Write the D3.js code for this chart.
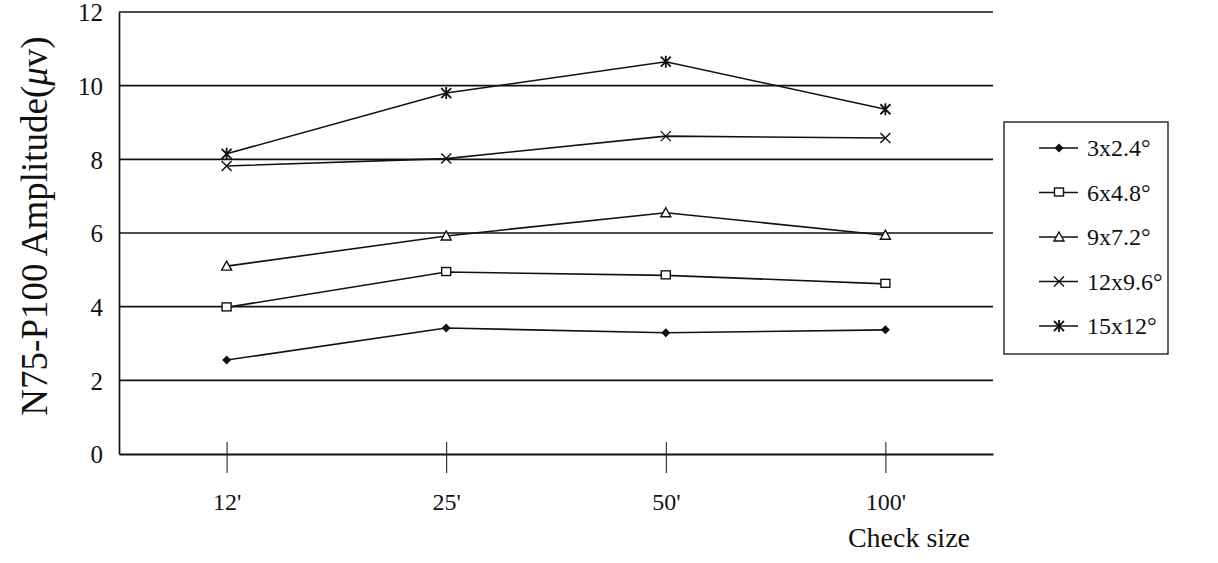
<!DOCTYPE html>
<html>
<head>
<meta charset="utf-8">
<script src="https://cdn.jsdelivr.net/npm/d3@7"></script>
<style>
  body { margin: 0; background: #fff; }
  text { font-family: "Liberation Serif", "Times New Roman", serif; fill: #111; }
</style>
</head>
<body>
<div id="chart-area"></div>
<script>
let checkSizes = ["12'", "25'", "50'", "100'"]
let seriesNames = ["3x2.4°", "6x4.8°", "9x7.2°", "12x9.6°", "15x12°"]
let values3 = [2.55, 3.42, 3.29, 3.37]
let values6 = [3.98, 4.94, 4.85, 4.62]
let values9 = [5.1, 5.92, 6.55, 5.94]
let values12 = [7.82, 8.02, 8.63, 8.58]
let values15 = [8.15, 9.8, 10.65, 9.36]
let yTicks = [0, 2, 4, 6, 8, 10, 12]
let markerKinds = ["diamond", "square", "triangle", "cross", "star"]

let serif = "'Liberation Serif', 'Times New Roman', serif"

let allSeries = [values3, values6, values9, values12, values15].map((vals, i) => {
  return { name: seriesNames[i], marker: markerKinds[i], values: vals }
})

let margin = { top: 12, right: 225, bottom: 109, left: 119 }
let width = 1218, height = 563
let plotW = width - margin.left - margin.right
let plotH = height - margin.top - margin.bottom

let svg = d3.select("#chart-area").append("svg")
  .attr("width", width)
  .attr("height", height)

let g = svg.append("g")
  .attr("transform", "translate(" + margin.left + ", " + margin.top + ")")

let x = d3.scalePoint()
  .domain(checkSizes)
  .range([0, plotW])
  .padding(0.49)

let y = d3.scaleLinear()
  .domain([0, 12])
  .range([plotH, 0])

// horizontal grid lines
g.selectAll(".grid")
  .data(yTicks.filter(t => t > 0))
  .enter().append("line")
    .attr("x1", 0)
    .attr("x2", plotW)
    .attr("y1", d => y(d))
    .attr("y2", d => y(d))
    .attr("stroke", "#111")
    .attr("stroke-width", 1.7)

// y axis
let yAxis = g.append("g")
  .call(d3.axisLeft(y).tickValues(yTicks).tickSize(0).tickPadding(16))
yAxis.attr("font-family", serif)
yAxis.select(".domain").attr("stroke", "#111").attr("stroke-width", 1.7)
yAxis.selectAll("text")
  .style("font-family", serif)
  .style("font-size", "25px")
  .attr("dy", "0.35em")

// x axis, ticks cross the line
let xAxis = g.append("g")
  .attr("transform", "translate(0," + plotH + ")")
  .call(d3.axisBottom(x).tickSizeInner(19).tickSizeOuter(0).tickPadding(20))
xAxis.attr("font-family", serif)
xAxis.select(".domain").attr("stroke", "#111").attr("stroke-width", 1.9)
xAxis.selectAll(".tick line").attr("stroke", "#111").attr("stroke-width", 1).attr("y1", -12)
xAxis.selectAll("text")
  .style("font-family", serif)
  .style("font-size", "24px")

// axis titles
svg.append("text")
  .attr("transform", "translate(47, 226) rotate(-90)")
  .attr("text-anchor", "middle")
  .style("font-size", "37px")
  .html("N75-P100 Amplitude(<tspan font-style='italic'>μ</tspan>v)")

svg.append("text")
  .attr("x", 970)
  .attr("y", 547)
  .attr("text-anchor", "end")
  .style("font-size", "28px")
  .text("Check size")

let line = d3.line()
  .x((d, i) => x(checkSizes[i]))
  .y(d => y(d))

function drawMarker(sel, kind) {
  if (kind === "diamond") {
    sel.append("path").attr("d", "M0,-4.5L4.5,0L0,4.5L-4.5,0Z").attr("fill", "#111")
  } else if (kind === "square") {
    sel.append("rect").attr("x", -4.5).attr("y", -4.5).attr("width", 9).attr("height", 8)
      .attr("fill", "#fff").attr("stroke", "#111").attr("stroke-width", 1.4)
  } else if (kind === "triangle") {
    sel.append("path").attr("d", "M0,-5L5,4L-5,4Z")
      .attr("fill", "#fff").attr("stroke", "#111").attr("stroke-width", 1.4)
  } else if (kind === "cross") {
    sel.append("path").attr("d", "M-5,-5L5,5M-5,5L5,-5")
      .attr("stroke", "#111").attr("stroke-width", 1.4)
  } else {
    sel.append("path").attr("d", "M-5,-5L5,5M-5,5L5,-5M0,-6L0,6")
      .attr("stroke", "#111").attr("stroke-width", 1.8)
  }
}

allSeries.forEach(s => {
  g.append("path")
    .datum(s.values)
    .attr("d", line)
    .attr("fill", "none")
    .attr("stroke", "#111")
    .attr("stroke-width", 1.6)

  g.selectAll(null)
    .data(s.values)
    .enter().append("g")
      .attr("transform", (d, i) => "translate(" + x(checkSizes[i]) + "," + y(d) + ")")
      .each(function () { drawMarker(d3.select(this), s.marker) })
})

// legend
let legend = svg.append("g").attr("transform", "translate(1004, 122)")
legend.append("rect")
  .attr("width", 164)
  .attr("height", 232)
  .attr("fill", "#fff")
  .attr("stroke", "#111")
  .attr("stroke-width", 1.3)

let items = legend.selectAll(".item")
  .data(allSeries)
  .enter().append("g")
    .attr("transform", (d, i) => "translate(0," + (26 + i * 44.5) + ")")

items.append("line")
  .attr("x1", 35).attr("x2", 74)
  .attr("stroke", "#111").attr("stroke-width", 1.5)
items.append("g")
  .attr("transform", "translate(55,0)")
  .each(function (d) { drawMarker(d3.select(this), d.marker) })
items.append("text")
  .attr("x", 83)
  .attr("dy", "0.35em")
  .style("font-size", "24px")
  .text(d => d.name)
</script>
</body>
</html>
